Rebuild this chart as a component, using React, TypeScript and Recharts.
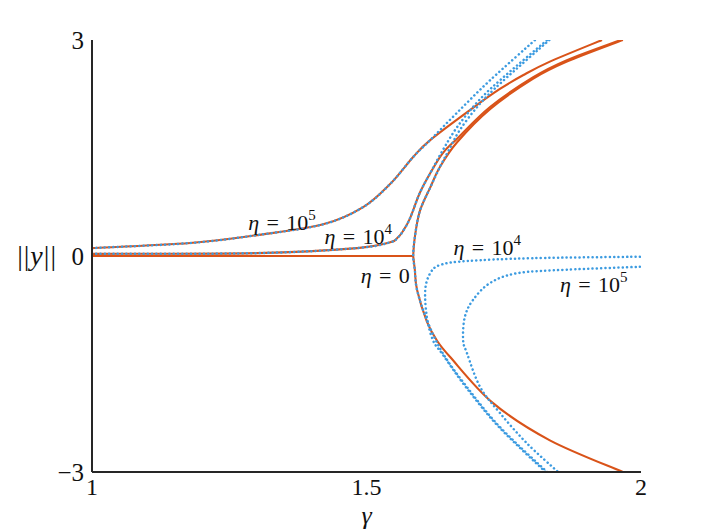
import { LineChart, Line, XAxis, YAxis, ReferenceDot } from "recharts";

type Pt = [number, number];

const xTicks = [1, 1.5, 2];
const yTicks = [-3, 0, 3];

// eta = 0 (solid)
const orangeEta0Flat: Pt[] = [[1, 0], [1.585, 0]];
const orangeEta0Upper: Pt[] = [
  [1.585, 0], [1.588, 0.26], [1.597, 0.62], [1.616, 0.95], [1.634, 1.24],
  [1.665, 1.58], [1.725, 2.04], [1.803, 2.46], [1.865, 2.7], [1.967, 3.0],
];
const orangeEta0Lower: Pt[] = [
  [1.585, 0], [1.588, -0.19], [1.592, -0.47], [1.61, -0.91], [1.628, -1.17],
  [1.652, -1.4], [1.73, -2.04], [1.834, -2.56], [1.967, -3.0],
];
// eta = 1e4 (solid)
const orangeEta4: Pt[] = [
  [1.0, 0.03], [1.301, 0.04], [1.483, 0.11], [1.543, 0.19], [1.556, 0.25],
  [1.566, 0.34], [1.579, 0.52], [1.597, 0.875], [1.616, 1.15], [1.639, 1.43],
  [1.665, 1.63], [1.725, 2.07], [1.803, 2.48], [1.865, 2.72], [1.963, 3.0],
];
// eta = 1e5 (solid)
const orangeEta5: Pt[] = [
  [1.0, 0.11], [1.179, 0.18], [1.301, 0.29], [1.421, 0.44], [1.494, 0.68],
  [1.543, 1.0], [1.585, 1.375], [1.616, 1.61], [1.689, 2.03], [1.743, 2.32],
  [1.785, 2.51], [1.834, 2.7], [1.929, 3.0],
];

// approximations (dotted)
const blueEta0: Pt[] = [
  [1.833, 3.0], [1.747, 2.42], [1.705, 2.1], [1.67, 1.75], [1.65, 1.47],
  [1.634, 1.24], [1.616, 0.95], [1.597, 0.62], [1.588, 0.26], [1.585, 0],
  [1.588, -0.19], [1.592, -0.47], [1.61, -0.89], [1.639, -1.35],
  [1.683, -1.82], [1.743, -2.375], [1.829, -3.0],
];
const blueEta4Upper: Pt[] = [
  [1.0, 0.03], [1.301, 0.04], [1.483, 0.11], [1.543, 0.19], [1.556, 0.25],
  [1.566, 0.34], [1.579, 0.52], [1.597, 0.875], [1.616, 1.15], [1.639, 1.47],
  [1.665, 1.79], [1.701, 2.13], [1.743, 2.44], [1.829, 3.0],
];
const blueEta4Lower: Pt[] = [
  [1.998, -0.01], [1.803, -0.03], [1.683, -0.07], [1.634, -0.125],
  [1.616, -0.24], [1.607, -0.47], [1.61, -0.85], [1.621, -1.17],
  [1.639, -1.37], [1.683, -1.84], [1.743, -2.39], [1.826, -3.0],
];
const blueEta5Upper: Pt[] = [
  [1.0, 0.11], [1.179, 0.18], [1.301, 0.29], [1.421, 0.44], [1.494, 0.68],
  [1.543, 1.0], [1.585, 1.375], [1.616, 1.61], [1.665, 1.99], [1.725, 2.44],
  [1.807, 3.0],
];
const blueEta5Lower: Pt[] = [
  [1.998, -0.15], [1.865, -0.19], [1.774, -0.24], [1.725, -0.375],
  [1.694, -0.61], [1.679, -0.85], [1.676, -1.17], [1.683, -1.35],
  [1.707, -1.82], [1.743, -2.18], [1.792, -2.6], [1.849, -3.0],
];

const etaLabels = [
  { g: 1.346, v: 0.46, base: "10", exp: "5" },
  { g: 1.485, v: 0.26, base: "10", exp: "4" },
  { g: 1.534, v: -0.28, base: "0", exp: "" },
  { g: 1.72, v: 0.11, base: "10", exp: "4" },
  { g: 1.914, v: -0.4, base: "10", exp: "5" },
];

const ORANGE = "#D95319";
const BLUE = "#3C9BE0";
const AXIS = "#262626";
const SERIF = "'Liberation Serif', 'DejaVu Serif', serif";

const rows = (pts: Pt[]) => pts.map(([x, y]) => ({ x, y }));

// Catmull-Rom through the read points, works for curves that fold back in x
const catmullRom = (context: any) => {
  let pts: number[][] = [];
  return {
    areaStart() {},
    areaEnd() {},
    lineStart() {
      pts = [];
    },
    point(x: number, y: number) {
      pts.push([+x, +y]);
    },
    lineEnd() {
      if (!pts.length) return;
      context.moveTo(pts[0][0], pts[0][1]);
      for (let i = 0; i < pts.length - 1; i++) {
        const p0 = pts[i - 1] || pts[i];
        const p1 = pts[i];
        const p2 = pts[i + 1];
        const p3 = pts[i + 2] || p2;
        context.bezierCurveTo(
          p1[0] + (p2[0] - p0[0]) / 6,
          p1[1] + (p2[1] - p0[1]) / 6,
          p2[0] - (p3[0] - p1[0]) / 6,
          p2[1] - (p3[1] - p1[1]) / 6,
          p2[0],
          p2[1]
        );
      }
    },
  };
};

const solid = [orangeEta0Flat, orangeEta0Upper, orangeEta0Lower, orangeEta4, orangeEta5];
const dotted = [blueEta0, blueEta4Upper, blueEta4Lower, blueEta5Upper, blueEta5Lower];

const XTick = ({ x, y, payload }: any) => (
  <text x={x} y={y} dy={15} textAnchor="middle" style={{ fontFamily: SERIF }} fontSize={24} fill="#111">
    {payload.value}
  </text>
);

const YTick = ({ x, y, payload }: any) => {
  const v = payload.value;
  const label = v < 0 ? "\u2212" + Math.abs(v) : String(v);
  return (
    <g>
      <text x={x} y={y} dy={9} textAnchor="end" style={{ fontFamily: SERIF }} fontSize={25} fill="#111">
        {label}
      </text>
      {v === 0 && (
        <text x={x - 27} y={y} dy={9} textAnchor="end" style={{ fontFamily: SERIF }} fontSize={28} fill="#111" letterSpacing={1}>
          {"||"}
          <tspan fontStyle="italic">y</tspan>
          {"||"}
        </text>
      )}
    </g>
  );
};

const EtaText = ({ cx, cy, base, exp }: any) => (
  <text x={cx} y={cy} dy={7} textAnchor="middle" style={{ fontFamily: SERIF }} fontSize={22} fill="#111">
    <tspan fontStyle="italic">η</tspan>
    <tspan>{"\u2004=\u2004" + base}</tspan>
    {exp && (
      <tspan dy={-10} fontSize={15}>
        {exp}
      </tspan>
    )}
  </text>
);

export default function App() {
  return (
    <LineChart width={698} height={522} margin={{ top: 32, right: 65, bottom: 8, left: 24 }}>
      <XAxis
        dataKey="x"
        type="number"
        domain={[1, 2]}
        ticks={xTicks}
        allowDataOverflow
        height={50}
        tickLine={false}
        axisLine={{ stroke: AXIS, strokeWidth: 2 }}
        tick={<XTick />}
        label={{ value: "γ", position: "insideBottom", offset: -2, fontFamily: SERIF, fontSize: 26, fontStyle: "italic", fill: "#111" }}
      />
      <YAxis
        type="number"
        domain={[-3, 3]}
        ticks={yTicks}
        allowDataOverflow
        width={60}
        tickLine={false}
        axisLine={{ stroke: AXIS, strokeWidth: 2 }}
        tick={<YTick />}
      />
      {solid.map((pts, i) => (
        <Line
          key={"s" + i}
          data={rows(pts)}
          dataKey="y"
          type={catmullRom as any}
          stroke={ORANGE}
          strokeWidth={2.1}
          dot={false}
          activeDot={false}
          isAnimationActive={false}
        />
      ))}
      {dotted.map((pts, i) => (
        <Line
          key={"d" + i}
          data={rows(pts)}
          dataKey="y"
          type={catmullRom as any}
          stroke={BLUE}
          strokeWidth={2.5}
          strokeDasharray="0.1 4.2"
          strokeLinecap="round"
          dot={false}
          activeDot={false}
          isAnimationActive={false}
        />
      ))}
      {etaLabels.map((l, i) => (
        <ReferenceDot
          key={"l" + i}
          x={l.g}
          y={l.v}
          r={0}
          shape={(p: any) => <EtaText cx={p.cx} cy={p.cy} base={l.base} exp={l.exp} />}
        />
      ))}
    </LineChart>
  );
}
